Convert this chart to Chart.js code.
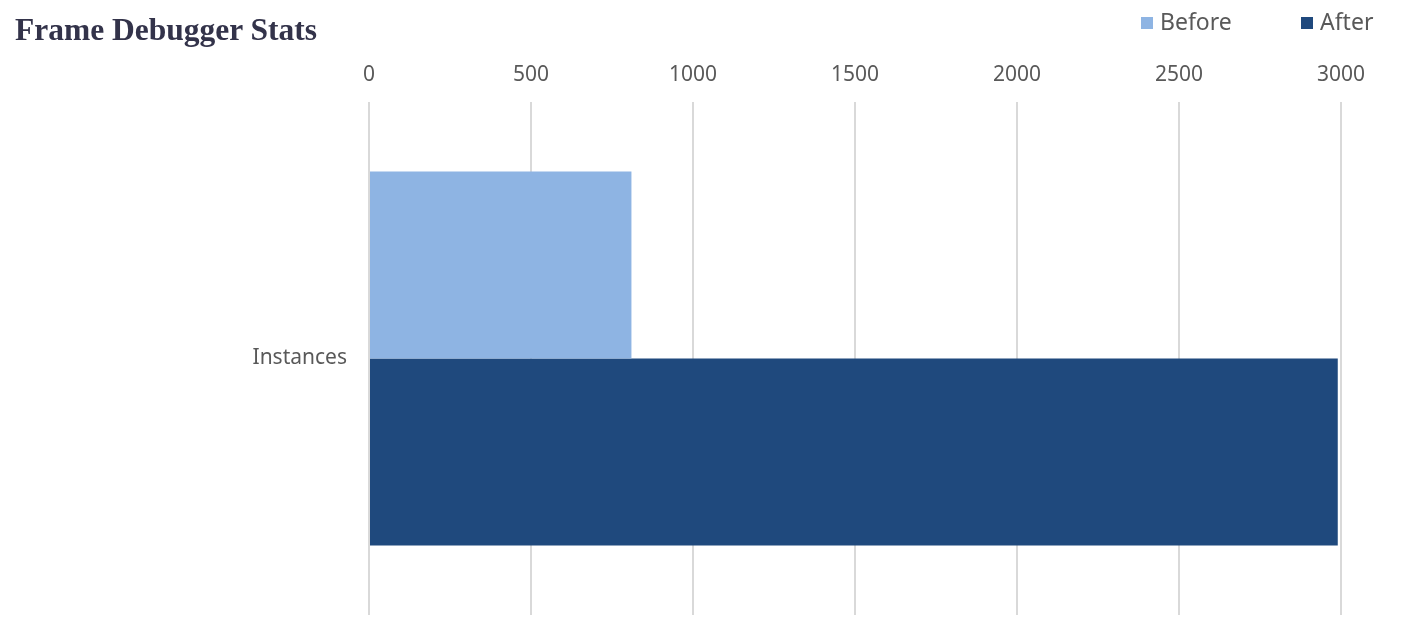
<!DOCTYPE html>
<html>
<head>
<meta charset="utf-8">
<title>Frame Debugger Stats</title>
<script src="https://cdn.jsdelivr.net/npm/chart.js@4/dist/chart.umd.min.js"></script>
<style>
  body { margin: 0; background: #fff; }
  #wrap { position: relative; width: 1420px; height: 622px; }
  #title { position: absolute; left: 15px; top: 12px; font: bold 31.5px "Liberation Serif", serif; color: #33334a; }
  .legend-item { position: absolute; top: 5px; height: 32px; line-height: 32px; font: 23px "Noto Sans", sans-serif; color: #595959; white-space: nowrap; }
  .legend-item .box { display: inline-block; width: 12px; height: 12px; margin-right: 7px; vertical-align: 1px; }
</style>
</head>
<body>
<div id="wrap">
  <canvas id="chart" width="1420" height="622"></canvas>
  <div id="title">Frame Debugger Stats</div>
  <div class="legend-item" style="left:1141px"><span class="box" style="background:#8EB4E3"></span>Before</div>
  <div class="legend-item" style="left:1301px"><span class="box" style="background:#1F497D"></span>After</div>
</div>
<script>
// values
const categories = ['Instances'];
const beforeValues = [810];
const afterValues = [2990];
const xMin = 0;
const xMax = 3000;
const xStep = 500;

const tickColor = '#595959';
const gridColor = '#d9d9d9';

new Chart(document.getElementById('chart'), {
    type: 'bar',
    data: {
        labels: categories,
        datasets: [{
            label: 'Before',
            data: beforeValues,
            backgroundColor: '#8EB4E3',
        }, {
            label: 'After',
            data: afterValues,
            backgroundColor: '#1F497D',
        }]
    },
    options: {
        indexAxis: 'y',
        responsive: false,
        animation: false,
        categoryPercentage: 0.729,
        barPercentage: 1,
        layout: {
            padding: { top: 40, right: 79, bottom: 7, left: 0 }
        },
        plugins: {
            legend: { display: false },
            tooltip: { enabled: false },
        },
        scales: {
            x: {
                position: 'top',
                min: xMin,
                max: xMax,
                ticks: {
                    stepSize: xStep,
                    color: tickColor,
                    font: { family: 'Noto Sans', size: 21 },
                    padding: 14,
                    callback: (value) => String(value),
                },
                grid: { color: gridColor, lineWidth: 2, drawTicks: false },
                border: { display: false },
                afterFit: (scale) => { scale.height = 62; },
            },
            y: {
                ticks: {
                    color: tickColor,
                    font: { family: 'Noto Sans', size: 21 },
                    padding: 22,
                },
                grid: { display: false, drawTicks: false },
                border: { display: false },
                afterFit: (scale) => {
                    scale.width = 369;
                    // label padding would otherwise push the plot bottom up
                    scale.paddingTop = 0;
                    scale.paddingBottom = 0;
                },
            },
        },
    },
});
</script>
</body>
</html>
